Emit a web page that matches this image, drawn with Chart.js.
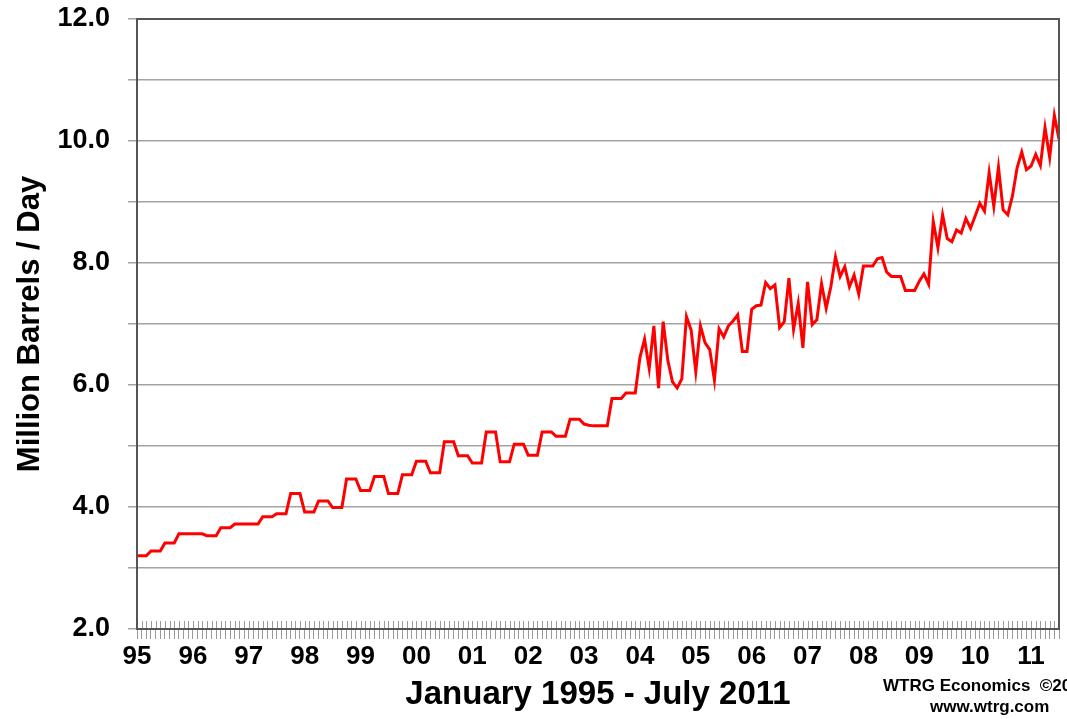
<!DOCTYPE html>
<html>
<head>
<meta charset="utf-8">
<script src="https://cdn.jsdelivr.net/npm/chart.js@4"></script>
<style>
  html, body { margin: 0; padding: 0; background: #fff; overflow: hidden; }
  #wrap { position: relative; width: 1067px; height: 719px; overflow: hidden; }
  .credit { position: absolute; font: bold 17px "Liberation Sans", Arial, sans-serif; color: #000; white-space: nowrap; }
</style>
</head>
<body>
<div id="wrap">
  <canvas id="chart" width="1067" height="719"></canvas>
  <div class="credit" style="left:883px; top:676px;">WTRG Economics&nbsp;&nbsp;©2011</div>
  <div class="credit" style="left:930px; top:697px;">www.wtrg.com</div>
</div>
<script>
// year tick labels, one per January
const yearLabels = ["95", "96", "97", "98", "99", "00", "01", "02", "03", "04", "05", "06", "07", "08", "09", "10", "11"];

// monthly output, million barrels / day, Jan 1995 - Jul 2011
const y1995 = [3.20, 3.20, 3.20, 3.28, 3.28, 3.28, 3.41, 3.41, 3.41, 3.56, 3.56, 3.56];
const y1996 = [3.56, 3.56, 3.56, 3.53, 3.53, 3.53, 3.66, 3.66, 3.66, 3.72, 3.72, 3.72];
const y1997 = [3.72, 3.72, 3.72, 3.84, 3.84, 3.84, 3.89, 3.89, 3.89, 4.22, 4.22, 4.22];
const y1998 = [3.92, 3.92, 3.92, 4.10, 4.10, 4.10, 3.99, 3.99, 3.99, 4.46, 4.46, 4.46];
const y1999 = [4.27, 4.27, 4.27, 4.50, 4.50, 4.50, 4.22, 4.22, 4.22, 4.53, 4.53, 4.53];
const y2000 = [4.75, 4.75, 4.75, 4.56, 4.56, 4.56, 5.07, 5.07, 5.07, 4.84, 4.84, 4.84];
const y2001 = [4.72, 4.72, 4.72, 5.23, 5.23, 5.23, 4.74, 4.74, 4.74, 5.03, 5.03, 5.03];
const y2002 = [4.85, 4.85, 4.85, 5.23, 5.23, 5.23, 5.16, 5.16, 5.16, 5.44, 5.44, 5.44];
const y2003 = [5.36, 5.34, 5.33, 5.33, 5.33, 5.33, 5.78, 5.78, 5.78, 5.87, 5.87, 5.87];
const y2004 = [6.45, 6.75, 6.27, 6.97, 5.95, 7.04, 6.40, 6.05, 5.95, 6.10, 7.12, 6.90];
const y2005 = [6.22, 6.97, 6.69, 6.58, 6.08, 6.92, 6.79, 6.97, 7.05, 7.15, 6.55, 6.55];
const y2006 = [7.24, 7.30, 7.31, 7.68, 7.58, 7.64, 6.94, 7.04, 7.75, 6.91, 7.34, 6.61];
const y2007 = [7.69, 6.99, 7.07, 7.66, 7.26, 7.61, 8.10, 7.78, 7.94, 7.61, 7.80, 7.49];
const y2008 = [7.95, 7.95, 7.95, 8.07, 8.09, 7.85, 7.78, 7.78, 7.78, 7.55, 7.55, 7.55];
const y2009 = [7.70, 7.82, 7.65, 8.68, 8.25, 8.79, 8.40, 8.35, 8.54, 8.49, 8.73, 8.57];
const y2010 = [8.77, 8.98, 8.85, 9.48, 8.93, 9.57, 8.87, 8.79, 9.10, 9.56, 9.82, 9.53];
const y2011 = [9.59, 9.78, 9.60, 10.22, 9.73, 10.42, 10.03];

const output = [].concat(y1995, y1996, y1997, y1998, y1999, y2000, y2001, y2002, y2003,
  y2004, y2005, y2006, y2007, y2008, y2009, y2010, y2011);

// one category per month; only Januaries get a year label
const labels = output.map((_, i) => (i % 12 === 0 ? yearLabels[i / 12] : ""));

const FONT = '"Liberation Sans", Arial, Helvetica, sans-serif';

// month ticks cross the axis line, and a dark frame goes round the plot
const framePlugin = {
  id: "frame",
  afterDraw(chart) {
    const { ctx, chartArea, scales } = chart;
    ctx.save();
    ctx.strokeStyle = "#9a9a9a";
    ctx.lineWidth = 1;
    for (let i = 0; i < labels.length; i++) {
      const x = Math.round(scales.x.getPixelForValue(i)) + 0.5;
      ctx.beginPath();
      ctx.moveTo(x, chartArea.bottom - 8);
      ctx.lineTo(x, chartArea.bottom);
      ctx.stroke();
    }
    ctx.strokeStyle = "#555";
    ctx.lineWidth = 2;
    ctx.strokeRect(chartArea.left, chartArea.top, chartArea.right - chartArea.left, chartArea.bottom - chartArea.top);
    ctx.restore();
  },
};

new Chart(document.getElementById("chart"), {
  type: "line",
  data: {
    labels,
    datasets: [
      {
        data: output,
        borderColor: "#ff0000",
        borderWidth: 3,
        pointRadius: 0,
        tension: 0,
        fill: false,
      },
    ],
  },
  options: {
    responsive: false,
    animation: false,
    layout: { padding: { top: 19, right: 8, left: 0, bottom: 0 } },
    plugins: { legend: { display: false }, tooltip: { enabled: false } },
    scales: {
      x: {
        offset: false,
        afterFit: (scale) => { scale.height = 90; },
        border: { display: true, color: "#555", width: 2 },
        grid: { drawOnChartArea: false, drawTicks: true, tickLength: 10, color: "#9a9a9a", lineWidth: 1 },
        ticks: {
          autoSkip: false,
          maxRotation: 0,
          minRotation: 0,
          padding: 2,
          color: "#000",
          font: { family: FONT, size: 26, weight: "bold" },
        },
        title: {
          display: true,
          text: "January 1995 - July 2011",
          color: "#000",
          font: { family: FONT, size: 33, weight: "bold" },
          padding: { top: 4, bottom: 4 },
        },
      },
      y: {
        min: 2,
        max: 12,
        afterFit: (scale) => {
          scale.width = 137;
          scale.paddingTop = 0;
          scale.paddingBottom = 0;
        },
        border: { display: true, color: "#555", width: 2 },
        grid: { color: "#a3a3a3", lineWidth: 1.5, tickLength: 9 },
        ticks: {
          stepSize: 1,
          padding: 18,
          color: "#000",
          font: { family: FONT, size: 27, weight: "bold" },
          callback: (v) => (v % 2 === 0 ? v.toFixed(1) : ""),
        },
        title: {
          display: true,
          text: "Million Barrels / Day",
          color: "#000",
          font: { family: FONT, size: 31, weight: "bold" },
          padding: { top: 12, bottom: 12 },
        },
      },
    },
  },
  plugins: [framePlugin],
});
</script>
</body>
</html>
